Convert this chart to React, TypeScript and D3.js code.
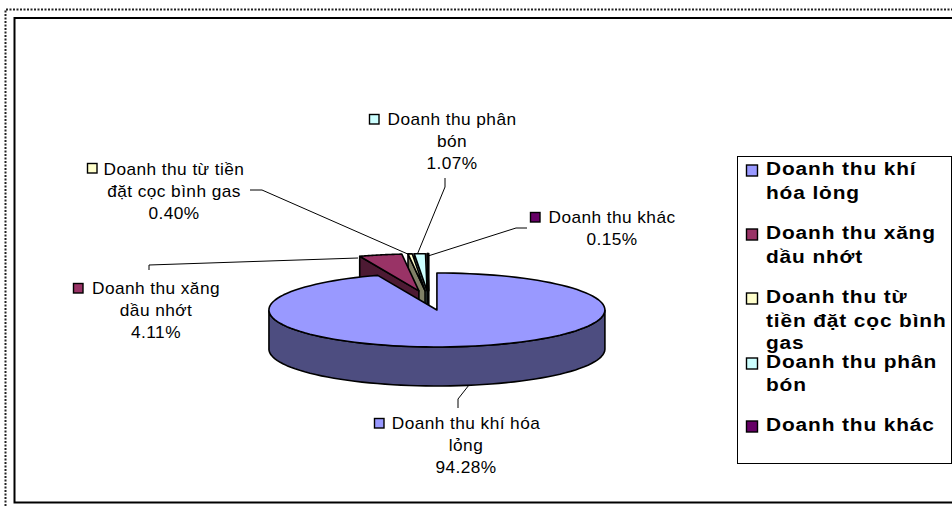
import React from "react";
import * as d3 from "d3";

const categories = ["Doanh thu khí hóa lỏng", "Doanh thu xăng dầu nhớt", "Doanh thu từ tiền đặt cọc bình gas", "Doanh thu phân bón", "Doanh thu khác"];
const values = [94.28, 4.11, 0.40, 1.07, 0.15];
const percentLabels = ["94.28%", "4.11%", "0.40%", "1.07%", "0.15%"];
const topColors = ["#9999ff", "#993366", "#ffffcc", "#ccffff", "#660066"];
const wallColors = ["#4d4d80", "#4d1a33", "#808066", "#668080", "#330033"];

const labelLines = [["Doanh thu khí hóa", "lỏng"], ["Doanh thu xăng", "dầu nhớt"], ["Doanh thu từ tiền", "đặt cọc bình gas"], ["Doanh thu phân", "bón"], ["Doanh thu khác"]];
const labelAnchors = [[466, 429], [156, 294], [174, 175], [452, 125], [612, 223]];
const labelSwatches = [[374, 418], [73, 283], [87, 163], [369, 114], [530, 212]];
const legendLines = [["Doanh thu khí", "hóa lỏng"], ["Doanh thu xăng", "dầu nhớt"], ["Doanh thu từ", "tiền đặt cọc bình", "gas"], ["Doanh thu phân", "bón"], ["Doanh thu khác"]];
const legendBaselines = [[175, 199], [239, 263], [303, 327, 349], [368, 391], [431]];
const leaders = [
  [[469, 385], [458, 399], [458, 408]],
  [[149, 270], [149, 265], [358, 258]],
  [[250, 190], [262, 190], [410, 255]],
  [[445, 178], [445, 187], [417, 255]],
  [[527, 228], [516, 228], [428, 256]],
];

const W = 952, H = 506;
const CX = 429, CY = 300.4, RX = 168, RY = 37, DEPTH = 39, EXPLODE = 0.263;
const FONT = "'Liberation Sans', Arial, sans-serif";

const pie = d3.pie<number>().sort(null).value((d) => d);
const arcs = pie(values);
const line = d3.line();

const project = (a: number, r = 1): [number, number] => [RX * r * Math.sin(a), -RY * r * Math.cos(a)];
const closed = (pts: [number, number][]) => line(pts) + "Z";

function Slice({ i }: { i: number }) {
  const { startAngle: s, endAngle: e } = arcs[i];
  const mid = (s + e) / 2;
  const [ox, oy] = project(mid, EXPLODE);
  const tip: [number, number] = [CX + ox, CY + oy];
  const at = (a: number, dy = 0): [number, number] => {
    const [x, y] = project(a);
    return [tip[0] + x, tip[1] + y + dy];
  };
  const samples = d3.range(0, 121).map((k) => s + ((e - s) * k) / 120);
  const topPts: [number, number][] = [tip, ...samples.map((a) => at(a))];
  const frontAngles = samples.filter((a) => Math.cos(a) <= 0);
  const common = { stroke: "#000", strokeWidth: 1.6, strokeLinejoin: "round" as const };
  return (
    <g>
      {i > 0 && (
        <path
          d={closed([tip, at(s), at(s, DEPTH), [tip[0], tip[1] + DEPTH]])}
          fill={wallColors[i]}
          {...common}
        />
      )}
      {frontAngles.length > 1 && (
        <path
          d={closed([...frontAngles.map((a) => at(a)), ...frontAngles.slice().reverse().map((a) => at(a, DEPTH))])}
          fill={wallColors[i]}
          {...common}
        />
      )}
      <path d={closed(topPts)} fill={topColors[i]} {...common} />
    </g>
  );
}

function Swatch({ x, y, size, i }: { x: number; y: number; size: number; i: number }) {
  return <rect x={x + 0.5} y={y + 0.5} width={size} height={size} fill={topColors[i]} stroke="#000" strokeWidth={1.4} />;
}

function DataLabel({ i }: { i: number }) {
  const [cx, y0] = labelAnchors[i];
  const lines = [...labelLines[i], percentLabels[i]];
  return (
    <g>
      <Swatch x={labelSwatches[i][0]} y={labelSwatches[i][1]} size={9.5} i={i} />
      {lines.map((t, k) => (
        <text
          key={k}
          transform={`translate(${cx},${y0 + k * 22}) scale(1.08,1)`}
          textAnchor="middle"
          fontSize={16}
          letterSpacing={0.4}
          fontFamily={FONT}
          fill="#000"
        >
          {t}
        </text>
      ))}
    </g>
  );
}

export default function App() {
  const order = [4, 3, 2, 1, 0];
  return (
    <svg width={W} height={H} viewBox={`0 0 ${W} ${H}`} style={{ position: "absolute", left: 0, top: 0, background: "#fff" }}>
      <path d={`M5.5 ${H}V9.5H${W}`} fill="none" stroke="#222" strokeWidth={2} strokeDasharray="2 1.5" />
      <path d={`M${W} 18H14.5V502.5H${W}`} fill="none" stroke="#000" strokeWidth={2} />

      {leaders.map((pts, i) =>
        pts.length ? <path key={i} d={line(pts as [number, number][]) as string} fill="none" stroke="#000" strokeWidth={1} /> : null
      )}
      {order.map((i) => <Slice key={i} i={i} />)}
      {categories.map((_, i) => <DataLabel key={i} i={i} />)}

      <rect x={737.5} y={156.5} width={214} height={307} fill="#fff" stroke="#000" strokeWidth={1} />
      {legendLines.map((lines, i) => (
        <g key={i}>
          <Swatch x={746} y={legendBaselines[i][0] - 10.5} size={11} i={i} />
          {lines.map((t, k) => (
            <text
              key={k}
              transform={`translate(766,${legendBaselines[i][k]}) scale(1.16,1)`}
              fontSize={18}
              fontWeight="bold"
              letterSpacing={0.75}
              fontFamily={FONT}
              fill="#000"
            >
              {t}
            </text>
          ))}
        </g>
      ))}
    </svg>
  );
}
